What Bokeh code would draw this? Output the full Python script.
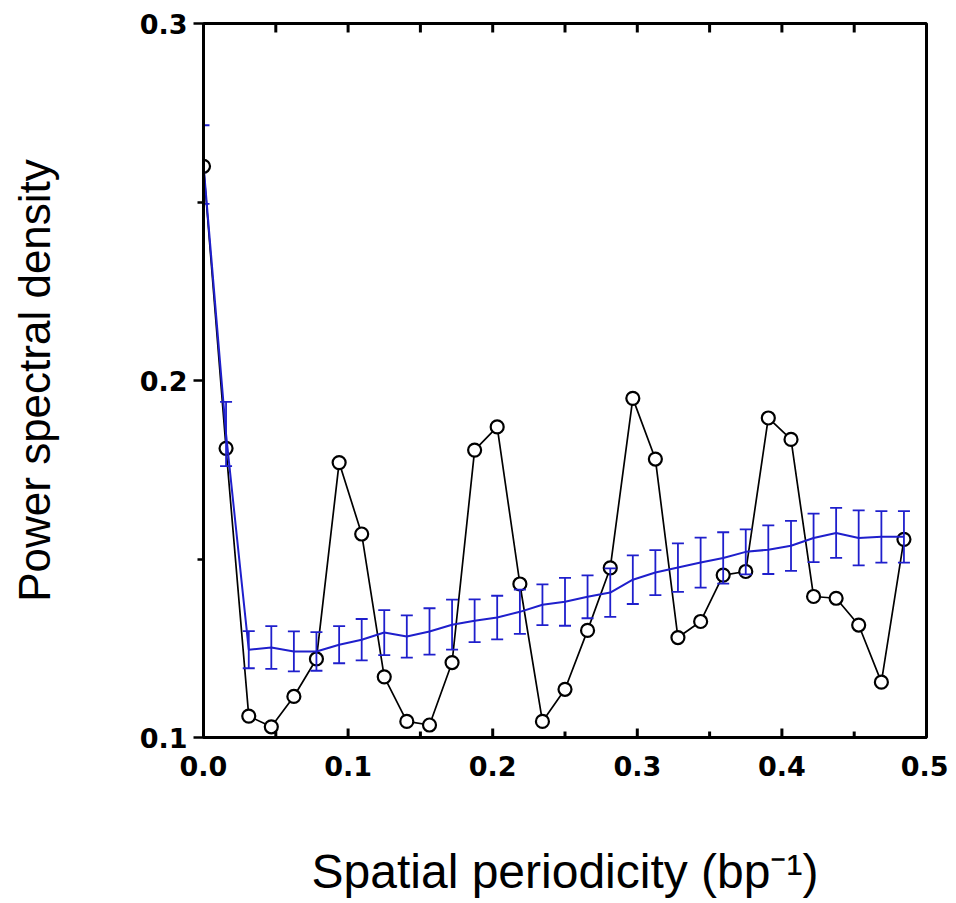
import numpy as np
from bokeh.plotting import figure
from bokeh.models import FixedTicker, Range1d, PrintfTickFormatter
from bokeh.embed import file_html
from bokeh.resources import INLINE

# ---- data ----
freq = [0.0, 0.0156, 0.0313, 0.0469, 0.0625, 0.0781, 0.0938, 0.1094,
        0.125, 0.1406, 0.1563, 0.1719, 0.1875, 0.2031, 0.2188, 0.2344,
        0.25, 0.2656, 0.2813, 0.2969, 0.3125, 0.3281, 0.3438, 0.3594,
        0.375, 0.3906, 0.4063, 0.4219, 0.4375, 0.4531, 0.4688, 0.4844]

psd_observed = [0.260, 0.181, 0.106, 0.103, 0.1115, 0.122, 0.177, 0.157,
                0.117, 0.1045, 0.1035, 0.121, 0.1805, 0.187, 0.143, 0.1045,
                0.1135, 0.130, 0.1475, 0.195, 0.178, 0.128, 0.1325, 0.1455,
                0.1465, 0.1895, 0.1835, 0.1395, 0.139, 0.1315, 0.1155, 0.1555]

psd_random_mean = [0.2605, 0.185, 0.1246, 0.1252, 0.1241, 0.1241, 0.126, 0.1274,
                   0.1294, 0.1283, 0.1297, 0.1316, 0.1327, 0.1336, 0.1352, 0.1372,
                   0.138, 0.1394, 0.1406, 0.1442, 0.1462, 0.1476, 0.149, 0.1503,
                   0.152, 0.1526, 0.1537, 0.1559, 0.1573, 0.1559, 0.1562, 0.1562]

psd_random_err = [0.011, 0.009, 0.0052, 0.006, 0.0056, 0.0054, 0.0052, 0.0058,
                  0.0063, 0.0059, 0.0065, 0.007, 0.006, 0.0061, 0.0062, 0.0057,
                  0.0067, 0.006, 0.0068, 0.0068, 0.0063, 0.0068, 0.007, 0.0072,
                  0.0063, 0.0068, 0.007, 0.0068, 0.007, 0.0077, 0.0072, 0.0072]

x_major = [0.0, 0.1, 0.2, 0.3, 0.4, 0.5]
x_minor = [0.05, 0.15, 0.25, 0.35, 0.45]
x_inner_major = [0.1, 0.2, 0.3, 0.4]
x_top_ticks = [0.05, 0.1, 0.15, 0.2, 0.25, 0.3, 0.35, 0.4, 0.45]
y_major = [0.1, 0.2, 0.3]
y_minor = [0.15, 0.25]

x_title = "Spatial periodicity (bp\u207b\u00b9)"
y_title = "Power spectral density"

BLUE = "#1f1fcc"
Y_BOTTOM = 0.1
Y_TOP = 0.3
PX_PER_Y = 3575.0          # frame height (715 px) / y span (0.2)
TICK_LONG_PX = 9
TICK_SHORT_PX = 6

p = figure(width=948, height=900, output_backend="svg", toolbar_location=None,
           x_range=Range1d(0.0, 0.5), y_range=Range1d(Y_BOTTOM, Y_TOP),
           min_border_left=203, min_border_right=22, min_border_top=23,
           min_border_bottom=162)
p.xgrid.visible = False
p.ygrid.visible = False
p.outline_line_color = "black"
p.outline_line_width = 3
p.background_fill_color = "white"
p.border_fill_color = "white"

tick_font = "DejaVu Sans"

xa = p.xaxis[0]
xa.ticker = FixedTicker(ticks=x_major, minor_ticks=x_minor)
xa.formatter = PrintfTickFormatter(format="%.1f")
xa.axis_line_width = 3
xa.major_tick_in = 0
xa.major_tick_out = 0
xa.minor_tick_in = 0
xa.minor_tick_out = 0
xa.major_label_text_font = tick_font
xa.major_label_text_font_style = "bold"
xa.major_label_text_font_size = "27px"
xa.major_label_standoff = 18
xa.major_label_text_color = "black"
xa.axis_label = x_title
xa.axis_label_text_font = "Liberation Sans"
xa.axis_label_text_font_style = "normal"
xa.axis_label_text_font_size = "48px"
xa.axis_label_text_color = "black"
xa.axis_label_standoff = 66

ya = p.yaxis[0]
ya.ticker = FixedTicker(ticks=y_major, minor_ticks=y_minor)
ya.formatter = PrintfTickFormatter(format="%.1f")
ya.axis_line_width = 3
ya.major_tick_in = 0
ya.major_tick_out = 10
ya.minor_tick_in = 0
ya.minor_tick_out = 6
ya.major_tick_line_width = 2.5
ya.minor_tick_line_width = 2.5
ya.major_label_text_font = tick_font
ya.major_label_text_font_style = "bold"
ya.major_label_text_font_size = "27px"
ya.major_label_standoff = 6
ya.major_label_text_color = "black"
ya.axis_label = y_title
ya.axis_label_text_font = "Liberation Sans"
ya.axis_label_text_font_style = "normal"
ya.axis_label_text_font_size = "44px"
ya.axis_label_text_color = "black"
ya.axis_label_standoff = 78

# observed spectrum (black, open circles)
p.line(freq, psd_observed, line_color="black", line_width=1.7)
p.scatter(freq, psd_observed, marker="circle", size=13, line_color="black",
          line_width=2.2, fill_color="white")

# randomised mean with error bars (blue)
mean = np.array(psd_random_mean)
err = np.array(psd_random_err)
lower = mean - err
upper = mean + err
p.line(freq, psd_random_mean, line_color=BLUE, line_width=2)
p.segment(x0=freq, y0=lower, x1=freq, y1=upper, line_color=BLUE, line_width=1.8)
p.scatter(freq, upper, marker="dash", size=12, line_color=BLUE, line_width=1.8)
p.scatter(freq, lower, marker="dash", size=12, line_color=BLUE, line_width=1.8)

# inward tick marks on the top and bottom edges: vertical dash markers whose
# centres sit half a tick length inside the frame
def inward_ticks(xs, edge_y, direction, length_px):
    centre = edge_y + direction * (length_px / 2.0) / PX_PER_Y
    p.scatter(xs, [centre] * len(xs), marker="dash", angle=np.pi / 2,
              size=length_px, line_color="black", line_width=3,
              level="overlay")

inward_ticks(x_top_ticks, Y_TOP, -1, TICK_LONG_PX)
inward_ticks(x_inner_major, Y_BOTTOM, +1, TICK_LONG_PX)
inward_ticks(x_minor, Y_BOTTOM, +1, TICK_SHORT_PX)

open("out.html", "w").write(file_html(p, INLINE))
